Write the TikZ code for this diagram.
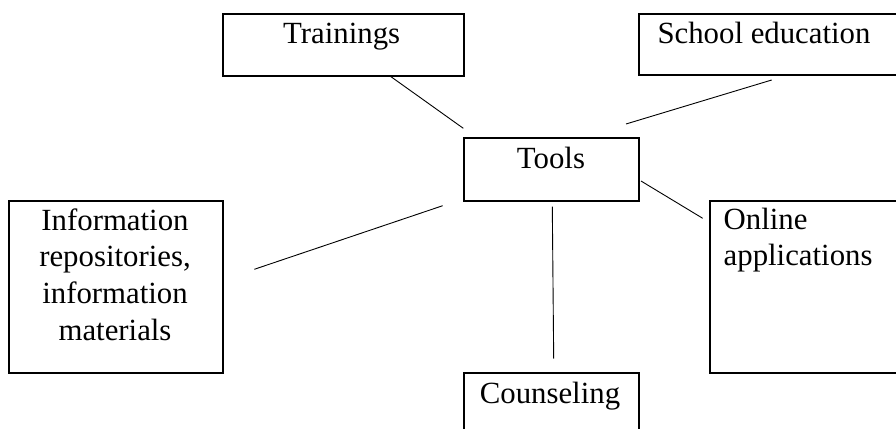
\documentclass[tikz,border=0pt]{standalone}
\usepackage{fontspec}
\setmainfont{Liberation Serif}
\usepackage{tikz}
\usetikzlibrary{calc}

\tikzset{
    box/.style={draw, line width=0.9pt, inner sep=0pt, anchor=north west},
    txt/.style={inner sep=0pt, font=\fontsize{15.4}{18.3}\selectfont},
    link/.style={line width=0.45pt}
}

\begin{document}
\begin{tikzpicture}[x=0.5pt, y=-0.5pt, black]

    \clip (0,0) rectangle (896,429);

    %boxes
    \node[box, minimum width=120.5pt, minimum height=31pt] (train) at (221.7,12.7) {};
    \node[box, minimum width=131.2pt, minimum height=30.8pt] (school) at (637.7,12.7) {};
    \node[box, minimum width=87.8pt, minimum height=31.7pt] (tools) at (462.7,136.7) {};
    \node[box, minimum width=107pt, minimum height=86.2pt] (info) at (8.3,200) {};
    \node[box, minimum width=95.7pt, minimum height=85.9pt] (online) at (708.7,200) {};
    \node[box, minimum width=87.8pt, minimum height=40pt] (couns) at (462.7,371.7) {};

    %labels (multi-line: base = last line)
    \node[txt, anchor=base] (trainT) at (341.7,43.3) {Trainings};
    \node[txt, anchor=base] (schoolT) at (764,43.3) {School education};
    \node[txt, anchor=base] (toolsT) at (551,168.3) {Tools};
    \node[txt, anchor=base] (counsT) at (550,403.3) {Counseling};
    \node[txt, anchor=base, align=center] (infoT) at (115,340)
    {Information \\ repositories, \\ information \\ materials};
    \node[txt, anchor=base west, align=left] (onlineT) at (723.3,265.7)
    {Online \\ applications};

    %line ends
    \coordinate (a1) at (390,76);    % below trainings
    \coordinate (a2) at (463.3,128.3);
    \coordinate (b1) at (771.7,80);  % below school
    \coordinate (b2) at (626,124);
    \coordinate (c1) at (641,181);   % right of tools
    \coordinate (c2) at (702.7,218.3);
    \coordinate (d1) at (552.3,206.7); % below tools
    \coordinate (d2) at (553.7,358.7);
    \coordinate (e1) at (442.7,205.7); % left of tools
    \coordinate (e2) at (254.3,269.3);

    %connectors
    \foreach \p/\q in {a1/a2,b1/b2,c1/c2,d1/d2,e1/e2}
    \draw[link] (\p) -- (\q);

\end{tikzpicture}
\end{document}
